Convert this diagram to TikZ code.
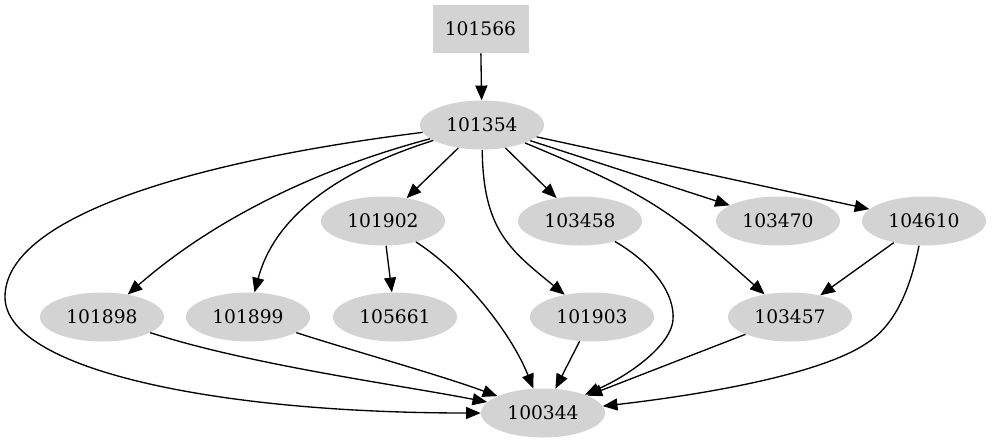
\documentclass[tikz,border=0pt]{standalone}
\usepackage{fontspec}
\setmainfont{DejaVu Serif}
\usetikzlibrary{arrows.meta,shapes.geometric}
\definecolor{gvgray}{HTML}{D3D3D3}
\tikzset{
  ell/.style={ellipse, fill=gvgray, draw=none, minimum width=93pt, minimum height=36.75pt, inner sep=0pt, font=\fontsize{14}{16}\selectfont},
  boxnode/.style={rectangle, fill=gvgray, draw=none, minimum width=72pt, minimum height=36pt, inner sep=0pt, font=\fontsize{14}{16}\selectfont},
  edge/.style={draw=black, line width=1pt, -{Triangle[length=11pt,width=9pt]}}
}
\begin{document}
\begin{tikzpicture}[x=0.75pt,y=-0.75pt]
\useasboundingbox (0,0) rectangle (992,443);
\node[boxnode] (n101566) at (480.5,29) {101566};
\node[ell] (n101354) at (482,125) {101354};
\node[ell] (n101902) at (383,221) {101902};
\node[ell] (n103458) at (580,221) {103458};
\node[ell] (n103470) at (778,221) {103470};
\node[ell] (n104610) at (924,221) {104610};
\node[ell] (n101898) at (102,317) {101898};
\node[ell] (n101899) at (248,317) {101899};
\node[ell] (n105661) at (395,317) {105661};
\node[ell] (n101903) at (592,317) {101903};
\node[ell] (n103457) at (790,317) {103457};
\node[ell] (n100344) at (543,413) {100344};
\coordinate (c1) at (5,297);
\coordinate (c2) at (673,320);
\coordinate (c3) at (867,343);

\draw[edge] (n101566) -- (n101354);
\draw[edge] (n101354) -- (n101902);
\draw[edge] (n101354) -- (n103458);
\draw[edge] (n101354) -- (n103470);
\draw[edge] (n101354) -- (n104610);
\draw[edge] (n101354) .. controls (650,195) and (670,210) .. (n103457);
\draw[edge] (n101354) .. controls (483,230) and (510,250) .. (n101903);
\draw[edge] (n101354) .. controls (320,168) and (215,218) .. (n101898);
\draw[edge] (n101354) .. controls (340,170) and (275,215) .. (n101899);
\draw[edge] (n101354) .. controls (200,160) and (5,215) .. (c1) .. controls (5,368) and (210,413) .. (n100344);
\draw[edge] (n101902) -- (n105661);
\draw[edge] (n101902) .. controls (460,270) and (510,330) .. (n100344);
\draw[edge] (n103458) .. controls (655,265) and (675,295) .. (c2) .. controls (671,345) and (630,375) .. (n100344);
\draw[edge] (n103457) -- (n100344);
\draw[edge] (n101903) -- (n100344);
\draw[edge] (n104610) -- (n103457);
\draw[edge] (n104610) .. controls (910,290) and (895,325) .. (c3) .. controls (820,375) and (700,395) .. (n100344);
\draw[edge] (n101898) .. controls (250,365) and (400,385) .. (n100344);
\draw[edge] (n101899) .. controls (350,350) and (440,375) .. (n100344);
\end{tikzpicture}
\end{document}
